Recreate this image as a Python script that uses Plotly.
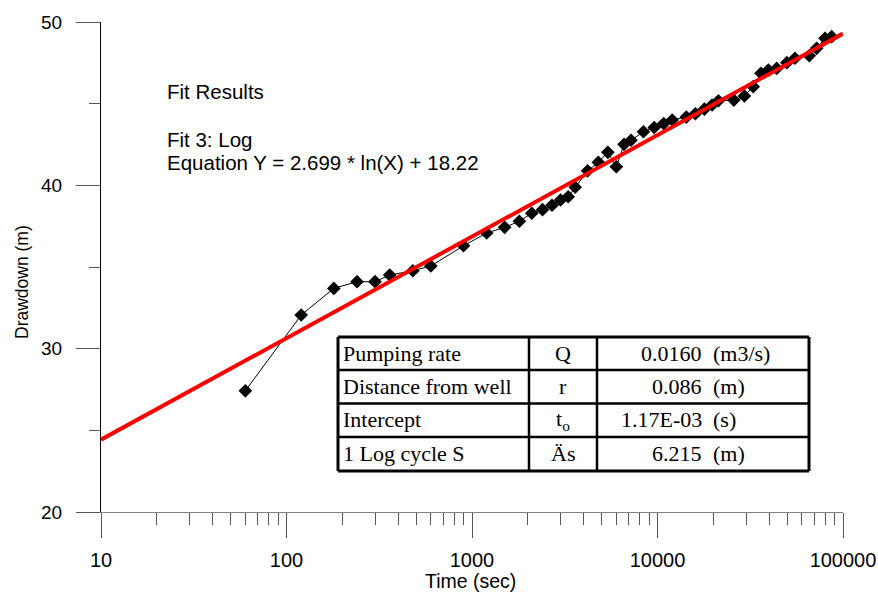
import plotly.graph_objects as go

# ---------------- data ----------------
time_s = [60, 120, 180, 240, 300, 360, 480, 600, 900, 1200, 1500, 1800, 2100, 2400,
          2700, 3000, 3300, 3600, 4200, 4800, 5400, 6000, 6600, 7200, 8400, 9600,
          10800, 12000, 14300, 16000, 17900, 19700, 21300, 25800, 29400, 32800,
          36100, 39600, 43900, 49800, 55100, 65800, 72100, 80000, 86900]
drawdown_m = [27.42, 32.06, 33.69, 34.10, 34.10, 34.51, 34.77, 35.06, 36.30, 37.08,
              37.43, 37.80, 38.29, 38.51, 38.78, 39.10, 39.30, 39.88, 40.89, 41.41,
              42.02, 41.14, 42.51, 42.76, 43.28, 43.54, 43.78, 44.00, 44.18, 44.38,
              44.67, 44.92, 45.18, 45.22, 45.47, 46.04, 46.86, 47.06, 47.16, 47.51,
              47.78, 47.94, 48.39, 49.00, 49.10]

# Log fit  Y = 2.699 * ln(X) + 18.22, read at the ends of the axis
fit_x = [10, 100000]
fit_y = [24.43, 49.29]

x_tick_vals = [10, 100, 1000, 10000, 100000]
x_tick_text = ["10", "100", "1000", "10000", "100000"]
x_minor_vals = [m * d for d in (10, 100, 1000, 10000) for m in range(2, 10)]
y_tick_vals = [20, 30, 40, 50]
y_minor_vals = [25, 35, 45]

fit_text = ["Fit Results", "Fit 3: Log", "Equation Y = 2.699 * ln(X) + 18.22"]

tbl_labels = ["Pumping rate", "Distance from well", "Intercept", "1 Log cycle S"]
tbl_symbols = ["Q", "r", "t<sub>o</sub>", "Äs"]
tbl_values = ["0.0160", "0.086", "1.17E-03", "6.215"]
tbl_units = ["(m3/s)", "(m)", "(s)", "(m)"]

# ---------------- layout geometry (pixels) ----------------
W, H = 878, 595
L, R, T, B = 101, 843, 22, 512


def px(x):
    return (x - L) / (R - L)


def py(y):
    return (B - y) / (B - T)


SANS = "Liberation Sans, Arial, sans-serif"
SERIF = "Liberation Serif, Times New Roman, serif"

fig = go.Figure()
fig.add_trace(go.Scatter(
    x=time_s, y=drawdown_m, mode="lines+markers",
    line=dict(color="black", width=1),
    marker=dict(symbol="diamond", size=10.5, color="black"),
    hoverinfo="x+y"))
fig.add_trace(go.Scatter(
    x=fit_x, y=fit_y, mode="lines",
    line=dict(color="#ff0000", width=4)))

annotations = []
# fit text
fit_y_px = [91, 139, 162]
for txt, yy in zip(fit_text, fit_y_px):
    annotations.append(dict(xref="paper", yref="paper", x=px(165), y=py(yy),
                            xanchor="left", yanchor="middle", text=txt,
                            showarrow=False, font=dict(family=SANS, size=20.5, color="black")))

# axis titles
annotations.append(dict(xref="paper", yref="paper", x=px(470), y=py(581),
                        xanchor="center", yanchor="middle", text="Time (sec)",
                        showarrow=False, font=dict(family=SANS, size=19.5, color="black")))
annotations.append(dict(xref="paper", yref="paper", x=px(22), y=py(282),
                        xanchor="center", yanchor="middle", text="Drawdown (m)",
                        textangle=-90, showarrow=False,
                        font=dict(family=SANS, size=17.5, color="black")))

# table
row_edges = [337, 370, 403.5, 437, 471]
col_edges = [338, 529, 597, 809]
shapes = []
shapes.append(dict(type="rect", xref="paper", yref="paper",
                   x0=px(col_edges[0]), x1=px(col_edges[-1]),
                   y0=py(row_edges[0]), y1=py(row_edges[-1]),
                   fillcolor="white", line=dict(width=0), layer="above"))
for i, ry in enumerate(row_edges):
    w = 3 if i in (0, len(row_edges) - 1) else 2.5
    shapes.append(dict(type="line", xref="paper", yref="paper",
                       x0=px(col_edges[0]), x1=px(col_edges[-1]), y0=py(ry), y1=py(ry),
                       line=dict(color="black", width=w), layer="above"))
for j, cx in enumerate(col_edges):
    w = 3 if j in (0, len(col_edges) - 1) else 2.5
    shapes.append(dict(type="line", xref="paper", yref="paper",
                       x0=px(cx), x1=px(cx), y0=py(row_edges[0]), y1=py(row_edges[-1]),
                       line=dict(color="black", width=w), layer="above"))

tfont = dict(family=SERIF, size=22, color="black")
for i in range(4):
    cy = (row_edges[i] + row_edges[i + 1]) / 2 - 0.5
    annotations.append(dict(xref="paper", yref="paper", x=px(341), y=py(cy),
                            xanchor="left", yanchor="middle", text=tbl_labels[i],
                            showarrow=False, font=tfont))
    annotations.append(dict(xref="paper", yref="paper", x=px(563), y=py(cy),
                            xanchor="center", yanchor="middle", text=tbl_symbols[i],
                            showarrow=False, font=tfont))
    annotations.append(dict(xref="paper", yref="paper", x=px(704), y=py(cy),
                            xanchor="right", yanchor="middle", text=tbl_values[i],
                            showarrow=False, font=tfont))
    annotations.append(dict(xref="paper", yref="paper", x=px(711), y=py(cy),
                            xanchor="left", yanchor="middle", text=tbl_units[i],
                            showarrow=False, font=tfont))

fig.update_layout(
    width=W, height=H,
    margin=dict(l=L, r=W - R, t=T, b=H - B, autoexpand=False),
    paper_bgcolor="white", plot_bgcolor="white",
    showlegend=False,
    font=dict(family=SANS, color="black"),
    xaxis=dict(type="log", range=[1, 5], showgrid=False, zeroline=False,
               showline=True, linecolor="#808080", linewidth=1,
               ticks="outside", ticklen=25, tickwidth=1, tickcolor="#555555",
               tickmode="array", tickvals=x_tick_vals, ticktext=x_tick_text,
               ticklabelstandoff=5,
               tickfont=dict(family=SANS, size=20, color="black"),
               minor=dict(ticks="outside", ticklen=12, tickwidth=1, tickcolor="#555555",
                          tickmode="array", tickvals=x_minor_vals, showgrid=False)),
    yaxis=dict(range=[20, 50], showgrid=False, zeroline=False,
               showline=True, linecolor="black", linewidth=1,
               ticks="outside", ticklen=24, tickwidth=1, tickcolor="#555555",
               tickmode="array", tickvals=y_tick_vals,
               ticklabelstandoff=10,
               tickfont=dict(family=SANS, size=19, color="black"),
               minor=dict(ticks="outside", ticklen=11, tickwidth=1, tickcolor="#555555",
                          tickmode="array", tickvals=y_minor_vals, showgrid=False)),
    annotations=annotations,
    shapes=shapes,
)

fig.write_html("out.html")
